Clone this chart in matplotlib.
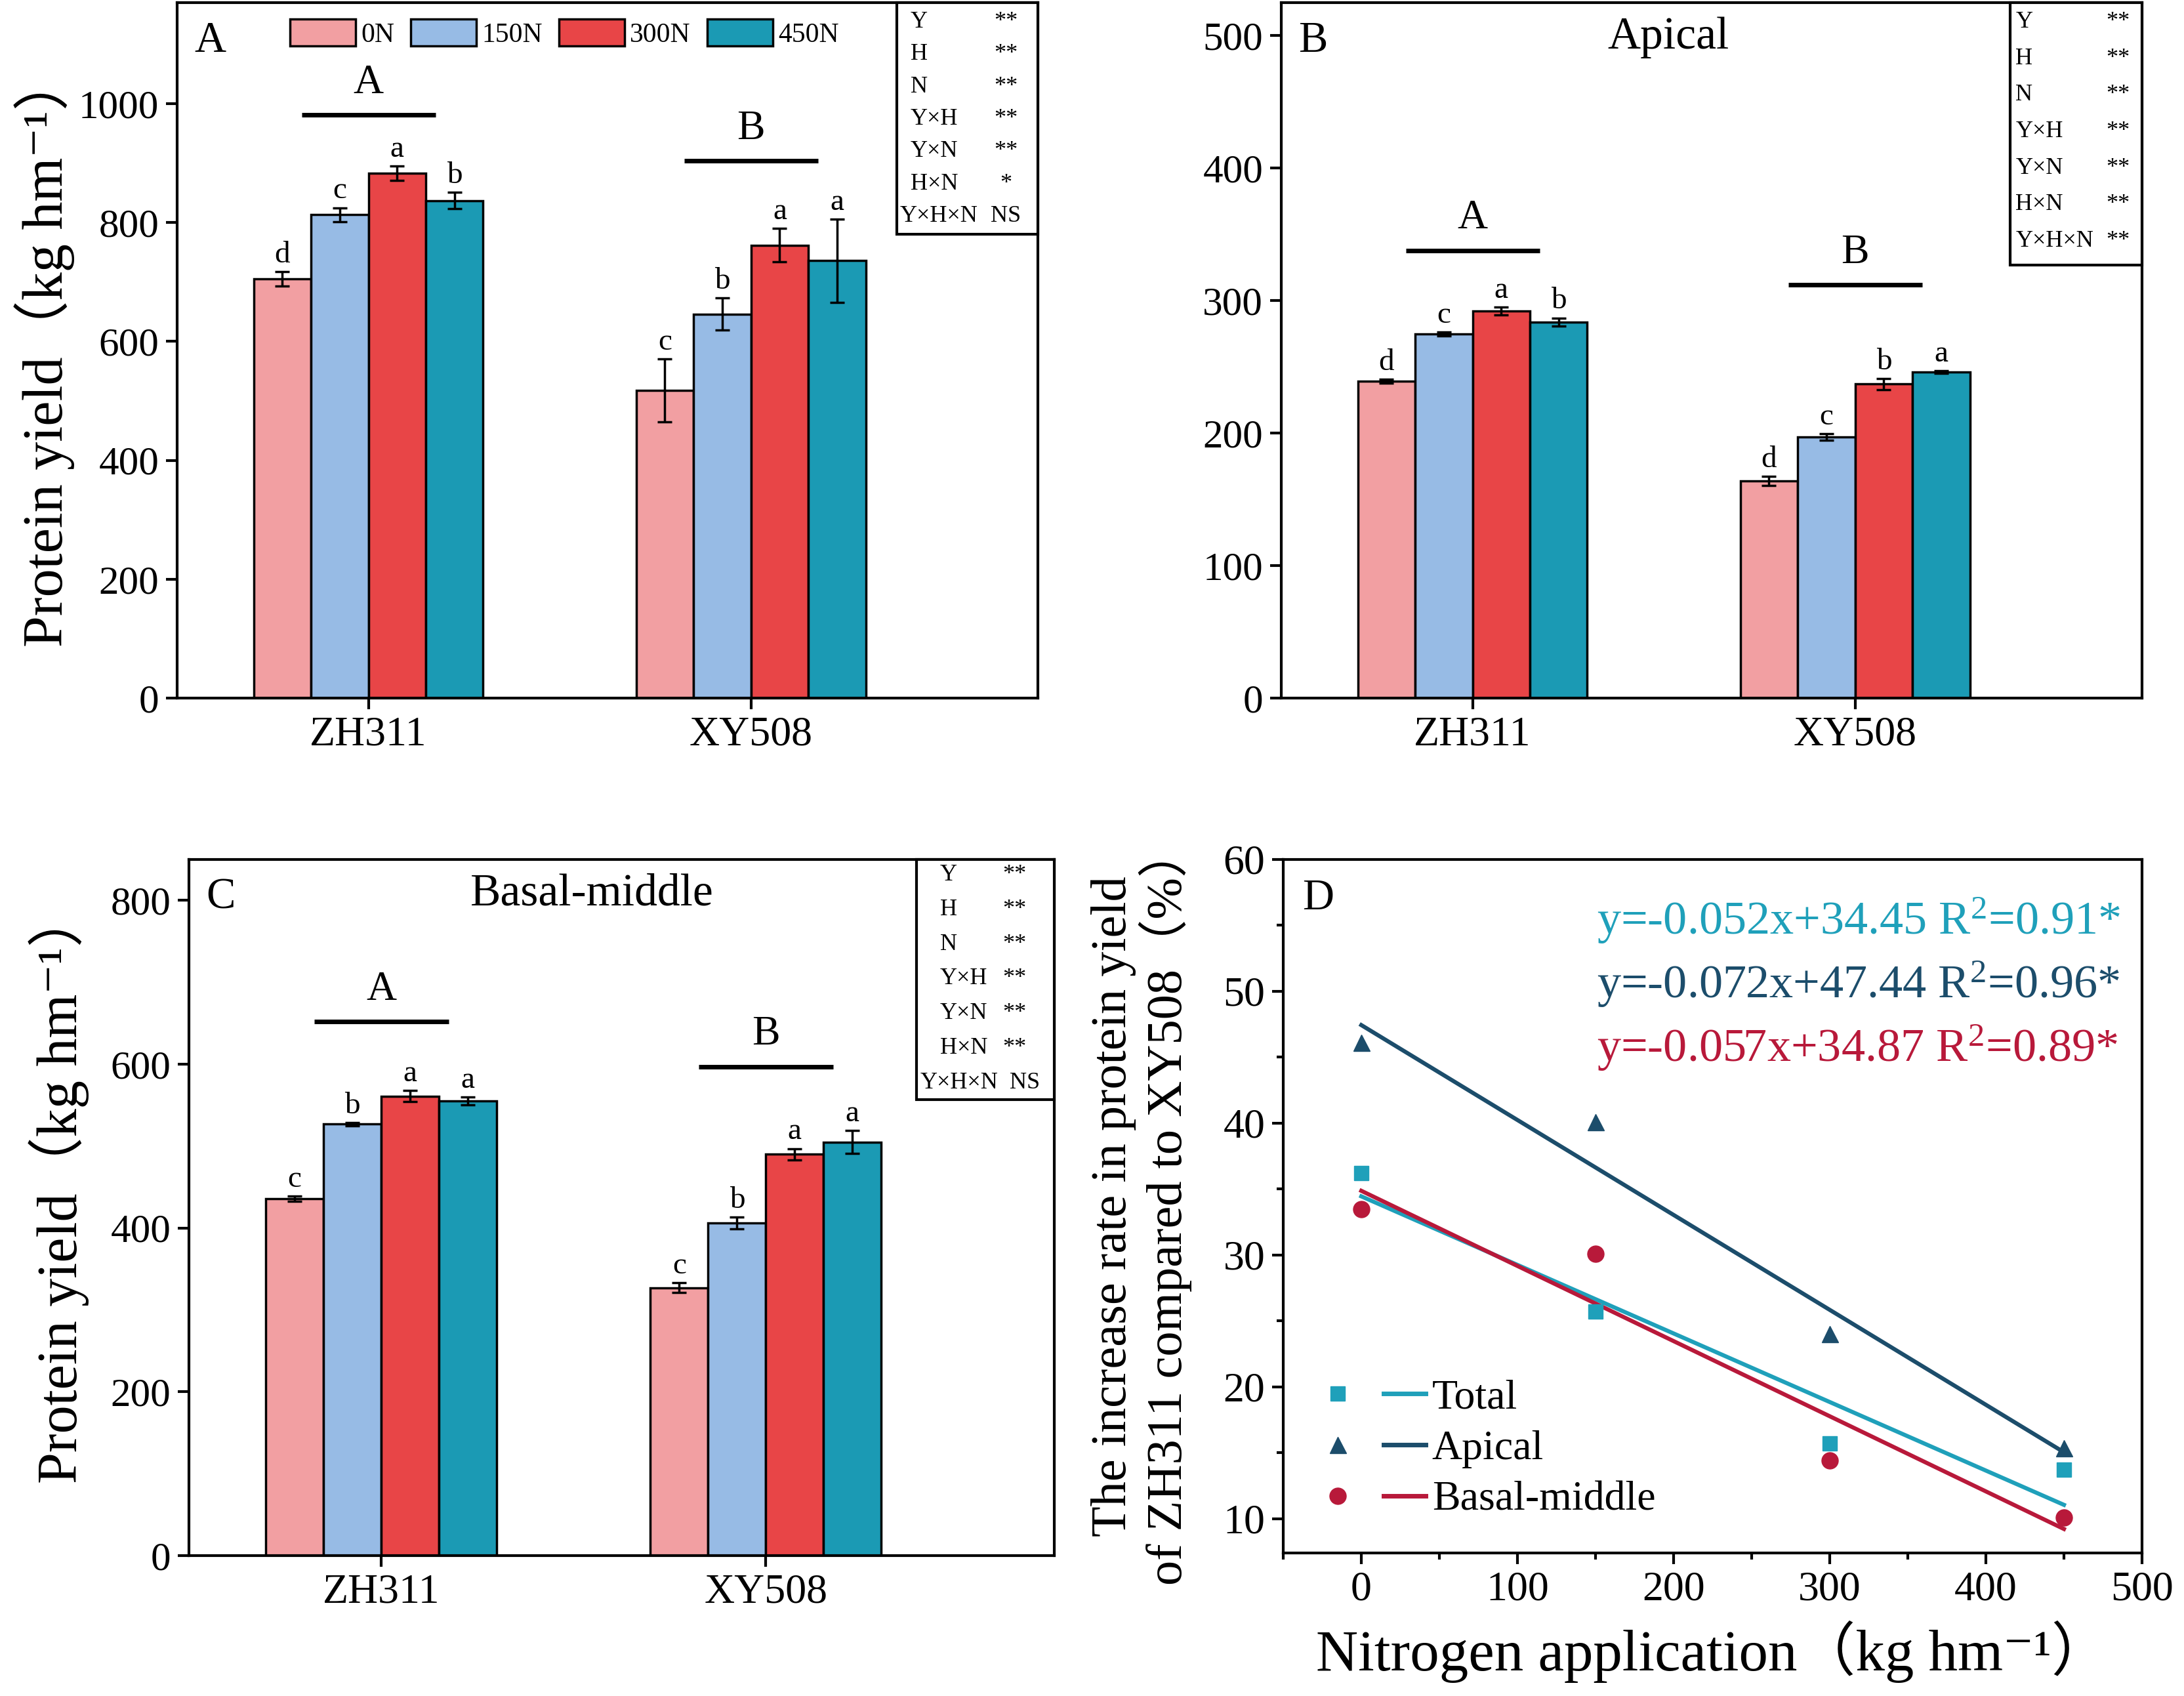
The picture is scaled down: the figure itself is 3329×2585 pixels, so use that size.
import numpy as np
import matplotlib
matplotlib.use('Agg')
import matplotlib.pyplot as plt
from matplotlib.patches import Rectangle
from matplotlib.lines import Line2D
from matplotlib.legend_handler import HandlerTuple
from matplotlib.ticker import MultipleLocator

plt.rcParams['font.family'] = ['Liberation Serif', 'Noto Sans CJK SC', 'DejaVu Sans']
plt.rcParams['mathtext.fontset'] = 'custom'
plt.rcParams['mathtext.rm'] = 'Liberation Serif'
plt.rcParams['mathtext.it'] = 'Liberation Serif:italic'
plt.rcParams['mathtext.bf'] = 'Liberation Serif:bold'

# ---------------- data ----------------
cultivars = ['ZH311', 'XY508']
n_levels = ['0N', '150N', '300N', '450N']
bar_colors = ['#f29fa2', '#97bbe5', '#e84547', '#1b9ab4']

# Panel A: total protein yield (rows = cultivar, cols = N level)
total_mean = [[705, 813, 883, 837], [518, 646, 762, 736]]
total_err = [[12, 12, 12, 14], [53, 27, 28, 70]]
total_letters = [['d', 'c', 'a', 'b'], ['c', 'b', 'a', 'a']]
total_group = ['A', 'B']
total_group_line = [981, 904]

# Panel B: apical
apical_mean = [[239, 275, 292, 284], [164, 197, 237, 246]]
apical_err = [[1.5, 1.5, 3, 3], [3.5, 2.5, 4, 1]]
apical_letters = [['d', 'c', 'a', 'b'], ['d', 'c', 'b', 'a']]
apical_group = ['A', 'B']
apical_group_line = [338, 312]

# Panel C: basal-middle
basal_mean = [[436, 527, 561, 555], [327, 406, 490, 505]]
basal_err = [[3, 2, 7, 5], [6, 7, 7, 14]]
basal_letters = [['c', 'b', 'a', 'a'], ['c', 'b', 'a', 'a']]
basal_group = ['A', 'B']
basal_group_line = [652, 597]

# ANOVA tables
factors = ['Y', 'H', 'N', 'Y×H', 'Y×N', 'H×N', 'Y×H×N']
sig_total = ['**', '**', '**', '**', '**', '*', 'NS']
sig_apical = ['**', '**', '**', '**', '**', '**', '**']
sig_basal = ['**', '**', '**', '**', '**', '**', 'NS']

# Panel D: increase rate (%) of ZH311 vs XY508
n_rate = [0, 150, 300, 450]
rate_total = [36.2, 25.7, 15.7, 13.7]
rate_apical = [46.1, 40.1, 24.0, 15.35]
rate_basal = [33.5, 30.1, 14.4, 10.1]
series_names = ['Total', 'Apical', 'Basal-middle']
fit_slope = [-0.052, -0.072, -0.057]
fit_intercept = [34.45, 47.44, 34.87]
fit_r2 = [0.91, 0.96, 0.89]
d_colors = ['#1fa0ba', '#1c4d6b', '#b8193a']
d_markers = ['s', '^', 'o']
d_msize = [16, 18, 18]

# ---------------- figure ----------------
W, H = 3329, 2585
fig = plt.figure(figsize=(W / 100, H / 100), dpi=100)

def fa(l, r, t, b):
    return [l / W, 1 - b / H, (r - l) / W, (b - t) / H]

axA = fig.add_axes(fa(270, 1582, 4, 1064))
axB = fig.add_axes(fa(1953, 3265, 4, 1064))
axC = fig.add_axes(fa(288, 1607, 1310, 2371))
axD = fig.add_axes(fa(1956, 3265, 1310, 2367))

SPINE_LW = 3
TICK_FS = 44


def style_axes(ax):
    for s in ax.spines.values():
        s.set_linewidth(SPINE_LW)
    ax.tick_params(axis='both', which='major', direction='out', length=12,
                   width=SPINE_LW, labelsize=TICK_FS, top=False, right=False, pad=8)


def stats_box(ax, sigs, x0, y0, w, h, y_first, dy, lab_x, last_lab_x, sig_x, last_sig_x):
    ax.add_patch(Rectangle((x0, y0), w, h, transform=ax.transAxes, facecolor='white',
                           edgecolor='black', lw=SPINE_LW, zorder=5, clip_on=False))
    n = len(factors)
    for i, (f, s) in enumerate(zip(factors, sigs)):
        y = y_first - i * dy
        lx = last_lab_x if i == n - 1 else lab_x
        sx = last_sig_x if i == n - 1 else sig_x
        ax.text(lx, y, f, transform=ax.transAxes, ha='left', va='center',
                fontsize=26, zorder=6)
        ax.text(sx, y, s, transform=ax.transAxes, ha='center', va='center',
                fontsize=26, zorder=6)


def bar_panel(ax, means, errs, letters, groups, group_line, ylim, ystep, sigs, box,
              label, title=None, legend=False):
    style_axes(ax)
    ax.tick_params(axis='x', labelsize=46)
    centers = np.arange(1, len(cultivars) + 1)
    width = 0.15
    offsets = (np.arange(len(n_levels)) - (len(n_levels) - 1) / 2) * width
    means = np.array(means, dtype=float)
    errs = np.array(errs, dtype=float)
    for j, lev in enumerate(n_levels):
        xs = centers + offsets[j]
        ax.bar(xs, means[:, j], width=width, color=bar_colors[j], edgecolor='black',
               linewidth=2.5, label=lev, zorder=2)
        ax.errorbar(xs, means[:, j], yerr=errs[:, j], fmt='none', ecolor='black',
                    elinewidth=2.5, capsize=8, capthick=2.5, zorder=3)
        for i in range(len(cultivars)):
            ax.annotate(letters[i][j], (xs[i], means[i, j] + errs[i, j]),
                        xytext=(0, 3), textcoords='offset points', ha='center',
                        va='bottom', fontsize=34)
    for i, c in enumerate(centers):
        ax.plot([c - 0.175, c + 0.175], [group_line[i]] * 2, color='black', lw=5,
                solid_capstyle='butt')
        ax.annotate(groups[i], (c, group_line[i]), xytext=(0, 14),
                    textcoords='offset points', ha='center', va='bottom', fontsize=46)
    ax.set_xlim(0.5, 2.75)
    ax.set_ylim(*ylim)
    ax.yaxis.set_major_locator(MultipleLocator(ystep))
    ax.set_xticks(centers)
    ax.set_xticklabels(cultivars)
    ax.text(0.02, 0.945, label, transform=ax.transAxes, fontsize=48, ha='left', va='center')
    if title:
        ax.text(title[1], 0.95, title[0], transform=ax.transAxes, fontsize=50,
                ha='center', va='center')
    stats_box(ax, sigs, *box)
    if legend:
        ax.legend(loc='upper center', bbox_to_anchor=(0.45, 1.0), ncol=4, frameon=False,
                  fontsize=30, handlelength=2.4, handleheight=1.15, handletextpad=0.2,
                  columnspacing=0.6, borderaxespad=0.2)


ylab = 'Protein yield（kg hm⁻¹）'

bar_panel(axA, total_mean, total_err, total_letters, total_group, total_group_line,
          (0, 1170), 200, sig_total,
          (0.836, 0.667, 0.164, 0.333, 0.972, 0.0465, 0.852, 0.84, 0.963, 0.963),
          'A', legend=True)
axA.set_ylabel(ylab, fontsize=62, labelpad=4)

bar_panel(axB, apical_mean, apical_err, apical_letters, apical_group, apical_group_line,
          (0, 525), 100, sig_apical,
          (0.847, 0.623, 0.153, 0.377, 0.972, 0.0525, 0.853, 0.853, 0.972, 0.972),
          'B', title=('Apical', 0.45))

bar_panel(axC, basal_mean, basal_err, basal_letters, basal_group, basal_group_line,
          (0, 850), 200, sig_basal,
          (0.841, 0.655, 0.159, 0.345, 0.978, 0.0498, 0.868, 0.845, 0.954, 0.966),
          'C', title=('Basal-middle', 0.466))
axC.set_ylabel(ylab, fontsize=62, labelpad=6)
axC.yaxis.set_label_coords(-0.115, 0.53)

# ---------------- panel D ----------------
ax = axD
style_axes(ax)
ax.tick_params(axis='both', which='major', labelsize=46)
ax.tick_params(axis='both', which='minor', direction='out', length=7, width=SPINE_LW,
               top=False, right=False)
rates = [rate_total, rate_apical, rate_basal]
handles = []
xfit = np.array([min(n_rate), max(n_rate)], dtype=float)
for k in range(3):
    ax.plot(n_rate, rates[k], ls='none', marker=d_markers[k], ms=d_msize[k],
            color=d_colors[k], zorder=4)
    ax.plot(xfit, fit_slope[k] * xfit + fit_intercept[k], color=d_colors[k], lw=4.5, zorder=3)
    mk = Line2D([], [], ls='none', marker=d_markers[k], ms=d_msize[k], color=d_colors[k])
    ln = Line2D([], [], color=d_colors[k], lw=5)
    handles.append((mk, ln))
    ax.text(0.365, 0.912 - k * 0.092,
            f'y={fit_slope[k]:.3f}x+{fit_intercept[k]:.2f} R$^2$={fit_r2[k]:.2f}*',
            transform=ax.transAxes, color=d_colors[k], fontsize=52, ha='left', va='center')
ax.legend(handles, series_names, handler_map={tuple: HandlerTuple(ndivide=None, pad=0.6)},
          loc='lower left', bbox_to_anchor=(0.0, 0.0), frameon=False, fontsize=46,
          handlelength=2.6, handletextpad=0.15, labelspacing=0.3, borderaxespad=0.4)
ax.set_xlim(-50, 500)
ax.set_ylim(7.4, 60)
ax.xaxis.set_major_locator(MultipleLocator(100))
ax.xaxis.set_minor_locator(MultipleLocator(50))
ax.yaxis.set_major_locator(MultipleLocator(10))
ax.yaxis.set_minor_locator(MultipleLocator(5))
ax.text(0.022, 0.944, 'D', transform=ax.transAxes, fontsize=48, ha='left', va='center')
ax.set_xlabel('Nitrogen application（kg hm⁻¹）', fontsize=64, labelpad=12)
ax.set_ylabel('The increase rate in protein yield\nof ZH311 compared to XY508（%）',
              fontsize=55, labelpad=34, linespacing=1.05)

fig.savefig('out.png', dpi=100)
